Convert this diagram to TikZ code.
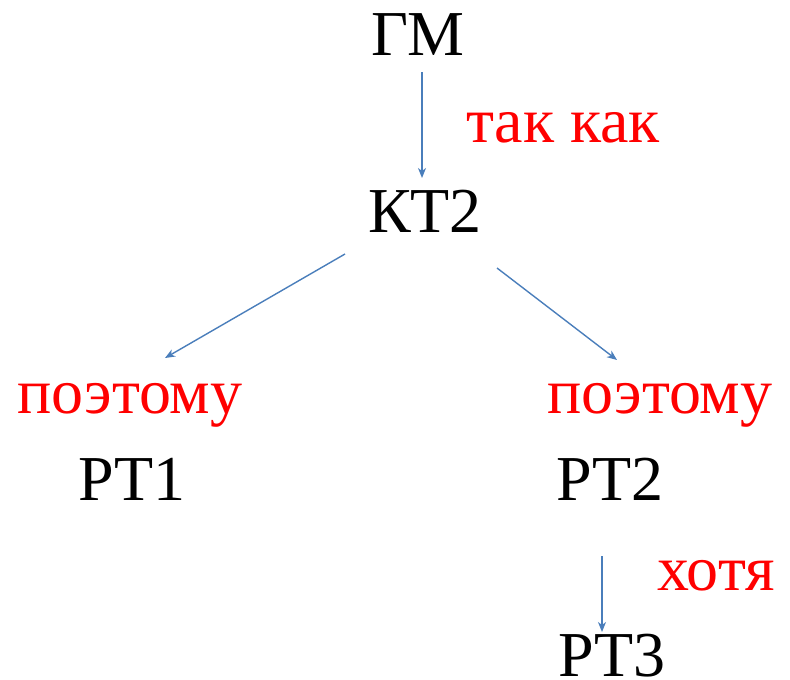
\documentclass[tikz,border=0pt]{standalone}
\usepackage{fontspec}
\setmainfont{Liberation Serif}
\usetikzlibrary{arrows.meta}
\definecolor{arrowblue}{HTML}{4A7EBB}
\tikzset{
  lbl/.style={font=\fontsize{64}{70}\selectfont, anchor=base, inner sep=0pt, text=black},
  rlbl/.style={lbl, text=red},
  conn/.style={draw=arrowblue, line width=1.4pt, -{Stealth[length=10pt,width=8pt,inset=3pt]}}
}
\begin{document}
\begin{tikzpicture}[x=1pt,y=-1pt]
\useasboundingbox (0,0) rectangle (790,680);
\node[lbl] (gm) at (418,55) {ГМ};
\node[rlbl] (tk) at (563,142) {так как};
\node[lbl] (kt2) at (425,232) {КТ2};
\node[rlbl] (p1) at (130,413) {поэтому};
\node[lbl] (rt1) at (132,500) {РТ1};
\node[rlbl] (p2) at (660,413) {поэтому};
\node[lbl] (rt2) at (610,500) {РТ2};
\node[rlbl] (ht) at (716,590) {хотя};
\node[lbl] (rt3) at (612,676) {РТ3};
\coordinate (a1s) at (422,72);
\coordinate (a1e) at (422,178);
\coordinate (a2s) at (345,254);
\coordinate (a2e) at (165,358);
\coordinate (a3s) at (497,268);
\coordinate (a3e) at (617,360);
\coordinate (a4s) at (602,556);
\coordinate (a4e) at (602,632);
\draw[conn] (a1s) -- (a1e);
\draw[conn] (a2s) -- (a2e);
\draw[conn] (a3s) -- (a3e);
\draw[conn] (a4s) -- (a4e);
\end{tikzpicture}
\end{document}
